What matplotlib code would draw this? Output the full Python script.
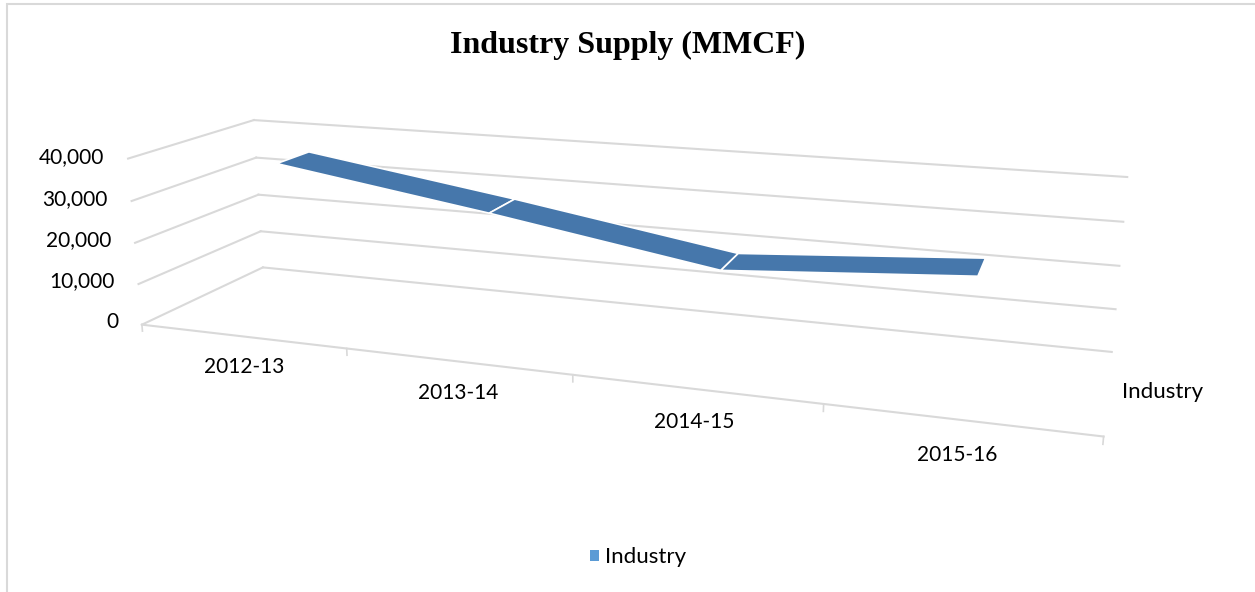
import numpy as np
import matplotlib.pyplot as plt
from matplotlib.patches import Patch, Rectangle
from mpl_toolkits.mplot3d.art3d import Poly3DCollection

# values
categories = ["2012-13", "2013-14", "2014-15", "2015-16"]
industry = [36900, 29100, 20600, 24300]
yticks = [0, 10000, 20000, 30000, 40000]
ytick_labels = ["0", "10,000", "20,000", "30,000", "40,000"]
series_name = "Industry"

grid_c = "#D9D9D9"
ribbon_c = "#4677AB"
legend_c = "#5B9BD5"

fig = plt.figure(figsize=(12.55, 5.92), dpi=100)
fig.patches.append(Rectangle((7 / 1255, -0.1), 1.2, (592 - 4) / 592 + 0.1,
                             transform=fig.transFigure, fill=False,
                             edgecolor="#D9D9D9", lw=1.5))

ax = fig.add_axes([-22 / 1255, 34 / 592, 1.0, 1.0], projection="3d",
                  computed_zorder=False)
ax.set_proj_type("persp", focal_length=0.48)
ax.view_init(elev=15, azim=-71)
ax.set_box_aspect((5.6, 1.38, 1.03), zoom=1.645)
ax.set_axis_off()
for a in (ax.xaxis, ax.yaxis, ax.zaxis):
    a.set_visible(False)

n = len(categories)
zmax = yticks[-1]
ax.set_xlim(0, n)
ax.set_ylim(0, 1)
ax.set_zlim(0, zmax)

# walls: back wall and left side wall gridlines
for v in yticks:
    ax.plot([0, n], [1, 1], [v, v], color=grid_c, lw=1.5, zorder=1, clip_on=False)
    ax.plot([0, 0], [0, 1], [v, v], color=grid_c, lw=1.5, zorder=1, clip_on=False)
# floor front edge with category ticks
ax.plot([0, n], [0, 0], [0, 0], color=grid_c, lw=1.5, zorder=1, clip_on=False)
for i in range(n + 1):
    ax.plot([i, i], [0, 0], [0, -0.04 * zmax], color=grid_c, lw=1.2, zorder=1,
            clip_on=False)

# ribbon segments
d0, d1 = 0.36, 0.64
xs = np.arange(n) + 0.5
quads = []
for i in range(n - 1):
    quads.append([(xs[i], d0, industry[i]), (xs[i + 1], d0, industry[i + 1]),
                  (xs[i + 1], d1, industry[i + 1]), (xs[i], d1, industry[i])])
ribbon = Poly3DCollection(quads, facecolor=ribbon_c, edgecolor="white", linewidths=1.2)
ribbon.set_zorder(5)
ribbon.set_clip_on(False)
ax.add_collection3d(ribbon)

# labels
for v, lab in zip(yticks, ytick_labels):
    ax.text(-0.12, 0, v, lab, ha="right", va="center", fontsize=15,
            family="Lato", color="#000000", clip_on=False)
for x, lab in zip(xs, categories):
    ax.text(x, 0, -0.185 * zmax, lab, ha="center", va="center", fontsize=15,
            family="Lato", color="#000000", clip_on=False)
ax.text(n + 0.05, 0.5, 0, series_name, ha="left", va="center",
        fontsize=16, family="Lato", color="#000000", clip_on=False)

fig.text(0.5, 0.924, "Industry Supply (MMCF)", ha="center", va="center",
         fontsize=23, fontweight="bold", family="Liberation Serif")

fig.legend(handles=[Patch(facecolor=legend_c, label=series_name)],
           loc="center", bbox_to_anchor=(0.5085, 0.059), frameon=False,
           handlelength=0.4, handleheight=0.4, handletextpad=0.25,
           prop={"family": "Lato", "size": 16})

fig.savefig("out.png", dpi=100)
